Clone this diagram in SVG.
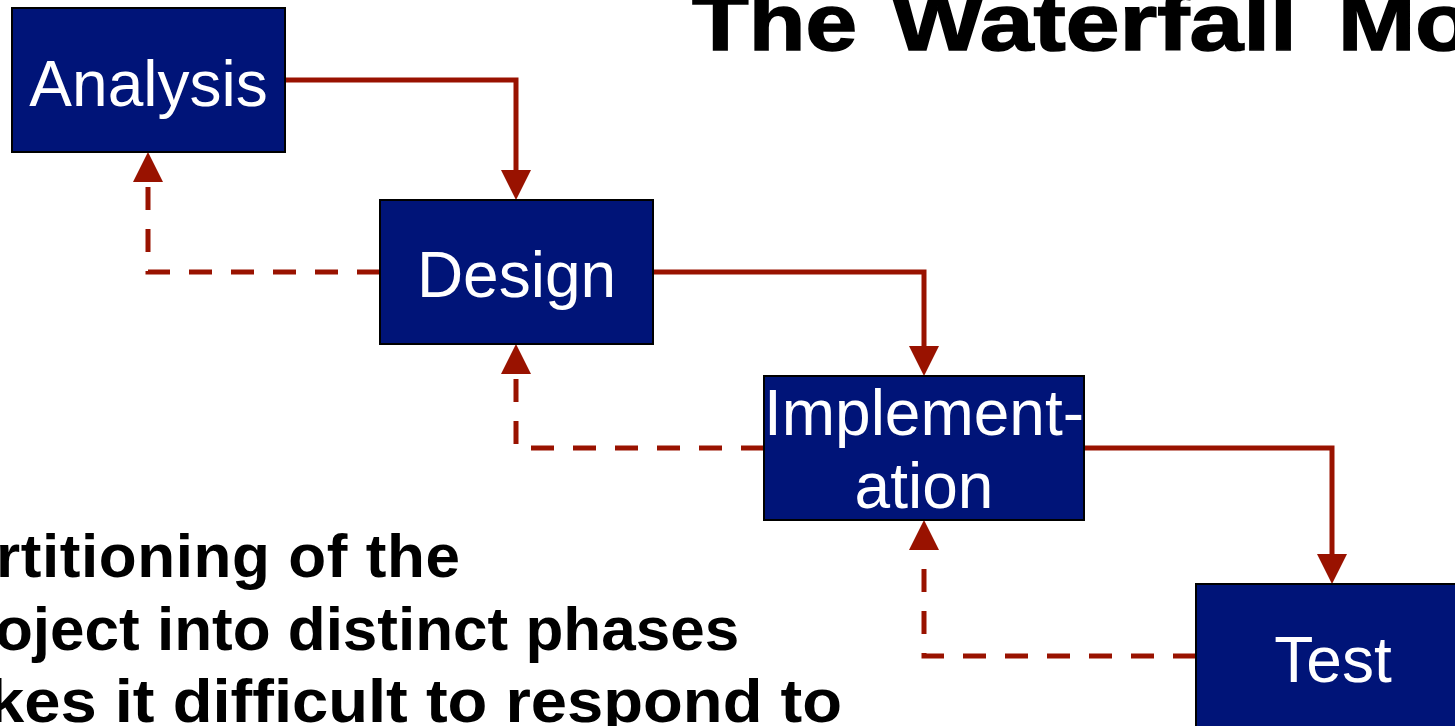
<svg xmlns="http://www.w3.org/2000/svg" width="1455" height="726" viewBox="0 0 1455 726">
  <defs>
    <style>
      .phase rect { fill: #001478; stroke: #000; stroke-width: 2; }
      .phase text { font-family: "Liberation Sans", Arial, sans-serif; font-size: 64px; fill: #fff; text-anchor: middle; }
      .flow { fill: none; stroke: #991200; stroke-width: 5; }
      .back { fill: none; stroke: #991200; stroke-width: 5; stroke-dasharray: 23 19; }
      .title { font-family: "Liberation Sans", Arial, sans-serif; font-weight: bold; font-size: 80px; fill: #000; stroke: #000; stroke-width: 1.5; }
      .note { font-family: "Liberation Sans", Arial, sans-serif; font-weight: bold; font-size: 62px; fill: #000; }
    </style>
    <!-- arrowhead: base sits on the path end, tip 30px further on -->
    <marker id="head" markerUnits="userSpaceOnUse" markerWidth="30" markerHeight="30" refX="0" refY="15" orient="auto">
      <path d="M0,0 L30,15 L0,30 Z" fill="#991200"/>
    </marker>
  </defs>

  <rect width="1455" height="726" fill="#fff"/>

  <!-- heading, one word per text so each can be sized to its slot -->
  <g id="title" class="title">
    <text x="692" y="50" textLength="165" lengthAdjust="spacingAndGlyphs">The</text>
    <text x="892" y="50" textLength="405" lengthAdjust="spacingAndGlyphs">Waterfall</text>
    <text x="1338" y="50" textLength="134" lengthAdjust="spacingAndGlyphs">Mo</text>
  </g>

  <g id="notes" class="note">
    <text x="-4" y="577" textLength="464" lengthAdjust="spacing">rtitioning of the</text>
    <text x="-5" y="650">oject into distinct phases</text>
    <text x="-12" y="722" textLength="854" lengthAdjust="spacingAndGlyphs">kes it difficult to respond to</text>
  </g>

  <g id="connectors">
    <!-- forward flow -->
    <path class="flow" d="M285,80 H516 V170" marker-end="url(#head)"/>
    <path class="flow" d="M653,272 H924 V346" marker-end="url(#head)"/>
    <path class="flow" d="M1084,448 H1332 V554" marker-end="url(#head)"/>
    <!-- feedback -->
    <path class="back" d="M380,272 H148 V182" marker-end="url(#head)"/>
    <path class="back" d="M764,448 H516 V374" marker-end="url(#head)"/>
    <path class="back" d="M1196,656 H924 V550" marker-end="url(#head)"/>
  </g>

  <g id="analysis" class="phase">
    <rect x="12" y="8" width="273" height="144"/>
    <text x="148.5" y="106">Analysis</text>
  </g>
  <g id="design" class="phase">
    <rect x="380" y="200" width="273" height="144"/>
    <text x="516.5" y="297">Design</text>
  </g>
  <g id="implementation" class="phase">
    <rect x="764" y="376" width="320" height="144"/>
    <text x="924" y="435">Implement-</text>
    <text x="924" y="508">ation</text>
  </g>
  <g id="test" class="phase">
    <rect x="1196" y="584" width="274" height="144"/>
    <text x="1333" y="682">Test</text>
  </g>
</svg>
